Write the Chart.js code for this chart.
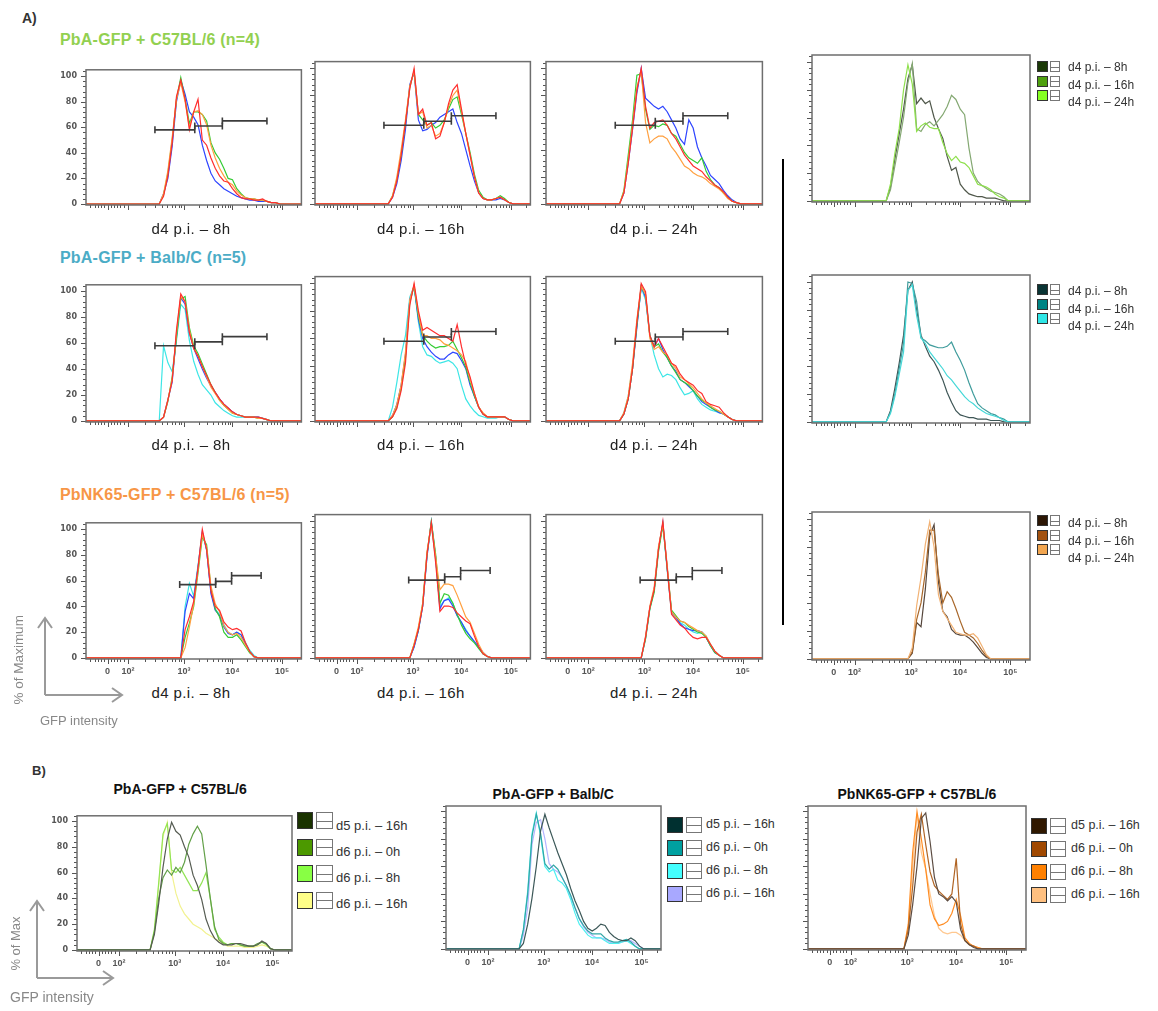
<!DOCTYPE html>
<html>
<head>
<meta charset="utf-8">
<script src="https://cdn.jsdelivr.net/npm/chart.js@4.4.1/dist/chart.umd.min.js"></script>
<style>
body { margin:0; background:#fff; width:1158px; height:1011px; position:relative; overflow:hidden; font-family:Arial, "Liberation Sans", sans-serif; }
canvas { position:absolute; }
.t { position:absolute; white-space:nowrap; line-height:1; }
.sw { position:absolute; border:1px solid #333; box-sizing:border-box; }
.ic { position:absolute; border:1px solid #777; box-sizing:border-box; background:#fff; }
.ic::after { content:''; position:absolute; left:0; right:0; top:50%; border-top:1px solid #777; }
</style>
</head>
<body>
<script>
// histogram bins (relative position along the biexponential GFP axis, 0..100)
const gridX = [0,30,32,34,36,38,40,42,44,46,48,50,52,54,56,58,60,62,64,66,68,70,72,74,76,78,80,82,84,86,88,90,92,94,96,100];
const tickPos = [10, 19.5, 45.5, 68, 91];
const tickLabels = ['0', '10²', '10³', '10⁴', '10⁵'];
const yLabelVals = [0, 20, 40, 60, 80, 100];

// gates (start, end) and their heights
const gatesTopX = [[32, 50.5], [50.5, 63.3], [63.3, 84]];
const gatesTopY = [58, 61, 65];
const gatesNkX = [[43.5, 60.2], [60.2, 67.6], [67.6, 81.3]];
const gatesNkY = [57, 59.5, 64];

// A) PbA-GFP + C57BL/6
const r1p1Blue   = [0, 0,0,0,8,20,45,80,97,86,72,68,62,46,34,24,18,15,12,10,8,6,5,4,3,3,2,2,2,1,1,0,0,0,0, 0];
const r1p1Green  = [0, 0,0,0,7,24,50,82,99,82,63,72,72,70,65,48,40,35,28,20,19,12,8,5,4,4,3,3,2,1,1,0,0,0,0, 0];
const r1p1Orange = [0, 0,0,0,8,26,52,82,95,80,60,72,73,70,62,46,36,28,22,17,15,10,7,5,4,4,3,3,2,1,1,0,0,0,0, 0];
const r1p1Red    = [0, 0,0,0,6,22,48,84,97,82,58,72,82,50,46,36,28,22,18,17,12,8,5,4,4,3,3,4,2,1,1,0,0,0,0, 0];
const r1p2Blue   = [0, 0,0,0,5,15,32,55,88,97,62,54,55,58,60,64,66,68,70,60,52,40,28,17,8,4,3,3,3,4,3,1,0,0,0, 0];
const r1p2Green  = [0, 0,0,0,6,18,36,60,86,98,66,62,58,60,56,58,62,70,77,79,66,52,38,22,10,5,3,3,4,6,4,1,0,0,0, 0];
const r1p2Orange = [0, 0,0,0,6,20,40,62,87,98,66,68,56,58,50,52,60,72,80,84,68,52,36,20,8,4,3,3,4,5,3,1,0,0,0, 0];
const r1p2Red    = [0, 0,0,0,5,17,36,60,85,100,66,70,58,60,48,50,60,74,84,88,70,52,36,20,8,4,3,3,4,5,3,1,0,0,0, 0];
const r1p3Blue   = [0, 0,0,0,8,30,55,82,100,78,75,72,70,72,68,62,56,48,44,62,56,42,34,28,21,18,15,10,6,3,1,0,0,0,0, 0];
const r1p3Green  = [0, 0,0,0,10,36,62,95,96,70,55,58,57,59,58,52,50,44,38,34,32,30,34,24,18,14,12,8,5,2,1,0,0,0,0, 0];
const r1p3Orange = [0, 0,0,0,9,32,58,86,98,60,45,48,50,50,48,42,38,33,28,26,23,21,20,18,15,13,11,8,4,2,1,0,0,0,0, 0];
const r1p3Red    = [0, 0,0,0,8,30,56,84,100,72,56,60,61,62,58,52,48,42,36,32,28,26,24,20,17,14,12,9,5,2,1,0,0,0,0, 0];

// A) PbA-GFP + Balb/C
const r2p1Cyan   = [0, 0,0,0,58,45,38,62,90,86,62,46,36,28,24,20,14,11,8,6,4,3,3,3,3,3,3,2,1,0,0,0,0,0,0, 0];
const r2p1Blue   = [0, 0,0,0,3,16,30,66,95,90,68,56,48,40,33,27,22,17,13,10,7,5,4,3,3,3,3,2,1,0,0,0,0,0,0, 0];
const r2p1Green  = [0, 0,0,0,3,15,34,64,94,96,72,58,52,44,36,28,22,16,12,9,6,5,4,3,3,3,2,2,1,0,0,0,0,0,0, 0];
const r2p1Orange = [0, 0,0,0,3,16,32,68,96,92,70,56,50,42,34,26,21,16,12,9,6,5,4,3,3,3,2,2,1,0,0,0,0,0,0, 0];
const r2p1Red    = [0, 0,0,0,3,16,31,70,98,92,68,56,50,42,35,28,22,17,13,10,7,5,4,3,3,3,3,2,1,0,0,0,0,0,0, 0];
const r2p2Cyan   = [0, 0,0,0,10,28,48,62,90,98,72,54,48,47,44,42,43,44,42,38,26,16,11,7,4,3,2,2,2,3,3,1,0,0,0, 0];
const r2p2Blue   = [0, 0,0,0,4,12,26,48,88,98,74,60,54,50,47,45,45,48,50,49,44,38,26,18,10,5,3,3,3,3,3,1,0,0,0, 0];
const r2p2Green  = [0, 0,0,0,3,10,24,46,86,98,76,62,58,55,53,54,54,55,58,52,46,39,28,18,10,5,3,3,3,3,3,1,0,0,0, 0];
const r2p2Orange = [0, 0,0,0,4,12,26,50,88,99,78,62,62,60,60,59,56,55,53,51,48,43,30,20,10,6,3,3,3,3,3,1,0,0,0, 0];
const r2p2Red    = [0, 0,0,0,3,9,22,42,84,100,80,66,68,66,64,62,62,60,58,70,54,41,32,20,10,5,3,3,3,3,3,1,0,0,0, 0];
const r2p3Cyan   = [0, 0,0,0,6,18,40,70,97,88,62,48,38,32,34,33,30,24,19,20,22,16,12,10,8,7,6,5,3,1,0,0,0,0,0, 0];
const r2p3Blue   = [0, 0,0,0,5,16,38,68,98,90,62,54,60,52,46,40,36,30,28,25,22,18,14,12,10,8,6,5,3,1,0,0,0,0,0, 0];
const r2p3Green  = [0, 0,0,0,5,16,38,70,98,92,62,54,56,50,46,40,35,30,28,26,22,18,15,13,10,8,7,5,3,1,0,0,0,0,0, 0];
const r2p3Orange = [0, 0,0,0,6,18,42,74,98,92,60,52,54,50,48,42,38,32,30,27,24,20,16,13,11,9,7,5,3,1,0,0,0,0,0, 0];
const r2p3Red    = [0, 0,0,0,5,16,38,72,100,94,62,54,60,54,48,42,40,34,30,28,26,22,20,14,12,11,10,6,3,1,0,0,0,0,0, 0];

// A) PbNK65-GFP + C57BL/6
const r3p1Cyan   = [0, 0,0,0,0,0,0,0,0,40,58,48,72,97,84,52,38,34,26,20,18,20,18,12,6,2,0,0,0,0,0,0,0,0,0, 0];
const r3p1Blue   = [0, 0,0,0,0,0,0,0,0,36,50,46,70,98,84,50,37,33,24,19,18,20,18,11,5,1,0,0,0,0,0,0,0,0,0, 0];
const r3p1Green  = [0, 0,0,0,0,0,0,0,0,16,27,40,66,94,88,54,38,32,20,16,16,18,14,9,4,1,0,0,0,0,0,0,0,0,0, 0];
const r3p1Orange = [0, 0,0,0,0,0,0,0,0,8,24,42,68,96,86,56,42,36,25,20,18,19,16,10,5,1,0,0,0,0,0,0,0,0,0, 0];
const r3p1Red    = [0, 0,0,0,0,0,0,0,0,22,32,44,70,100,84,52,40,37,28,24,22,23,21,12,5,1,0,0,0,0,0,0,0,0,0, 0];
const r3p2Cyan   = [0, 0,0,0,0,0,0,0,0,8,20,38,76,98,72,38,42,44,40,31,26,21,16,12,7,3,1,0,0,0,0,0,0,0,0, 0];
const r3p2Blue   = [0, 0,0,0,0,0,0,0,0,8,20,38,74,100,74,36,42,43,38,31,26,20,16,12,8,4,1,0,0,0,0,0,0,0,0, 0];
const r3p2Green  = [0, 0,0,0,0,0,0,0,0,10,21,40,76,100,76,40,47,46,40,32,24,18,14,11,7,3,1,0,0,0,0,0,0,0,0, 0];
const r3p2Orange = [0, 0,0,0,0,0,0,0,0,10,23,40,78,98,74,50,54,54,53,46,38,30,26,18,10,4,1,0,0,0,0,0,0,0,0, 0];
const r3p2Red    = [0, 0,0,0,0,0,0,0,0,9,21,38,76,99,70,34,38,38,37,33,30,27,25,16,8,3,1,0,0,0,0,0,0,0,0, 0];
const r3p3Cyan   = [0, 0,0,0,0,0,0,0,0,14,36,50,80,98,64,33,29,26,24,21,19,18,19,16,10,5,2,0,0,0,0,0,0,0,0, 0];
const r3p3Blue   = [0, 0,0,0,0,0,0,0,0,15,37,50,80,99,66,34,30,25,22,21,20,20,19,15,9,4,2,0,0,0,0,0,0,0,0, 0];
const r3p3Green  = [0, 0,0,0,0,0,0,0,0,14,36,48,78,97,66,35,31,27,26,23,21,19,18,15,9,4,2,0,0,0,0,0,0,0,0, 0];
const r3p3Orange = [0, 0,0,0,0,0,0,0,0,16,38,52,82,98,68,34,30,27,26,24,22,20,19,16,10,5,2,0,0,0,0,0,0,0,0, 0];
const r3p3Red    = [0, 0,0,0,0,0,0,0,0,15,37,50,80,100,66,32,28,24,22,18,15,14,15,15,10,5,2,0,0,0,0,0,0,0,0, 0];

// A) overlays d4 p.i. 8h / 16h / 24h
const o1Dark  = [0, 0,0,0,10,30,48,66,88,98,70,74,70,72,60,52,45,32,22,24,12,8,5,4,3,3,2,2,2,1,0,0,0,0,0, 0];
const o1Mid   = [0, 0,0,0,8,25,42,60,85,99,52,50,55,57,54,58,62,68,76,73,66,62,38,20,14,11,9,7,6,5,3,0,0,0,0, 0];
const o1Light = [0, 0,0,0,12,34,52,80,98,84,50,54,56,53,52,52,42,34,29,32,28,27,24,18,12,11,10,8,5,3,2,0,0,0,0, 0];
const o2Dark  = [0, 0,0,0,8,24,42,62,94,100,80,62,54,47,43,37,30,21,14,8,5,4,3,3,2,2,2,1,1,1,0,0,0,0,0, 0];
const o2Mid   = [0, 0,0,0,7,20,38,56,100,99,86,60,58,55,54,53,53,54,57,50,44,37,28,20,13,10,8,6,5,3,2,0,0,0,0, 0];
const o2Light = [0, 0,0,0,6,18,34,50,94,98,76,60,56,50,46,42,38,33,30,26,22,18,15,13,10,8,6,5,4,3,1,0,0,0,0, 0];
const o3Dark  = [0, 0,0,0,0,0,0,0,0,4,26,23,50,88,96,55,34,30,21,18,17,17,15,12,8,4,1,0,0,0,0,0,0,0,0, 0];
const o3Mid   = [0, 0,0,0,0,0,0,0,0,5,28,40,62,92,92,60,40,48,44,36,27,19,17,15,11,6,2,0,0,0,0,0,0,0,0, 0];
const o3Light = [0, 0,0,0,0,0,0,0,0,8,38,58,82,98,80,46,34,29,24,19,18,17,17,18,15,9,3,0,0,0,0,0,0,0,0, 0];

// B) d5 16h / d6 0h / d6 8h / d6 16h
const b1D5h16 = [0, 0,0,0,12,36,64,86,99,92,89,80,72,58,50,39,24,15,9,6,4,4,4,5,5,4,3,3,4,7,5,1,0,0,0, 0];
const b1D6h0  = [0, 0,0,0,14,40,56,62,58,64,60,68,82,90,96,90,66,40,18,8,5,4,5,5,4,3,3,3,5,6,5,1,0,0,0, 0];
const b1D6h8  = [0, 0,0,0,16,52,90,98,62,60,64,58,52,46,46,52,60,40,16,10,6,4,5,5,4,3,3,3,4,6,4,1,0,0,0, 0];
const b1D6h16 = [0, 0,0,0,14,50,88,99,60,44,34,28,24,20,18,16,13,11,9,7,5,3,3,3,3,2,2,2,3,4,3,1,0,0,0, 0];
const b2D5h16 = [0, 0,0,0,4,18,37,60,86,98,88,79,70,62,54,44,35,28,20,15,13,15,18,17,12,9,7,6,6,8,6,2,0,0,0, 0];
const b2D6h0  = [0, 0,0,0,14,40,82,98,84,62,58,61,58,52,46,39,30,22,17,13,11,11,11,8,6,5,5,6,7,5,2,0,0,0,0, 0];
const b2D6h8  = [0, 0,0,0,14,42,84,99,82,60,56,58,50,48,44,36,26,18,14,10,8,8,8,6,4,4,4,5,6,4,2,0,0,0,0, 0];
const b2D6h16 = [0, 0,0,0,10,30,76,92,94,80,62,58,56,52,46,38,30,22,16,12,10,8,8,7,5,4,4,5,6,6,4,2,0,0,0, 0];
const b3D5h16 = [0, 0,0,0,0,0,0,0,0,10,32,60,95,99,78,52,40,38,35,38,34,14,6,3,1,0,0,0,0,0,0,0,0,0,0, 0];
const b3D6h0  = [0, 0,0,0,0,0,0,0,0,14,45,85,98,76,56,46,42,39,36,40,66,18,6,3,2,0,0,0,0,0,0,0,0,0,0, 0];
const b3D6h8  = [0, 0,0,0,0,0,0,0,0,18,70,100,80,58,32,22,17,18,20,26,36,24,8,4,2,1,0,0,0,0,0,0,0,0,0, 0];
const b3D6h16 = [0, 0,0,0,0,0,0,0,0,16,60,98,70,58,40,24,15,12,11,12,12,10,6,3,2,1,0,0,0,0,0,0,0,0,0, 0];

const C = { cyan:'#3de6e6', blue:'#2f45ff', green:'#35cc35', orange:'#ffa040', red:'#ff2e2e' };

Chart.defaults.font.family = 'Arial, "Liberation Sans", sans-serif';

// y minor ticks every 4 units, x minor ticks following the log decades
const yMinor = [];
for (let v = 0; v <= 104; v += 4) yMinor.push(v);
const xMinor = [2, 4, 5.5, 7, 8.5, 11.5, 13, 14.5, 16, 17.5];
for (let d = 1; d < 4; d++) {
  const a = tickPos[d], b = tickPos[d + 1];
  for (let k = 2; k < 10; k++) xMinor.push(a + (b - a) * Math.log10(k));
}
xMinor.push(91 + 23 * Math.log10(2));

const frame = {
  id: 'frame',
  afterDraw(chart) {
    const { ctx, chartArea: a, scales: { x, y } } = chart;
    ctx.save();
    ctx.strokeStyle = '#555';
    ctx.lineWidth = 1;
    ctx.beginPath();
    yMinor.forEach(v => {
      if (v > chart.options.scales.y.max) return;
      const py = Math.round(y.getPixelForValue(v)) + 0.5;
      ctx.moveTo(a.left - (v % 20 === 0 ? 5 : 3), py); ctx.lineTo(a.left, py);
    });
    xMinor.forEach(v => {
      const px = Math.round(x.getPixelForValue(v)) + 0.5;
      ctx.moveTo(px, a.bottom); ctx.lineTo(px, a.bottom + 3);
    });
    tickPos.forEach(v => {
      const px = Math.round(x.getPixelForValue(v)) + 0.5;
      ctx.moveTo(px, a.bottom); ctx.lineTo(px, a.bottom + 5);
    });
    ctx.stroke();
    ctx.strokeStyle = '#6e6e6e';
    ctx.lineWidth = 1.5;
    ctx.strokeRect(a.left, a.top, a.right - a.left, a.bottom - a.top);
    ctx.restore();
  }
};

const padL = 32, padT = 4, padR = 4, padB = 22;

function makePanel(box, series, gx, gy, showY, showX, yMax, lw) {
  const cv = document.createElement('canvas');
  cv.width = box[2] + padL + padR;
  cv.height = box[3] + padT + padB;
  cv.style.left = (box[0] - padL) + 'px';
  cv.style.top = (box[1] - padT) + 'px';
  document.body.appendChild(cv);
  const datasets = [];
  if (gx) gx.forEach((g, i) => datasets.push({
    data: [{ x: g[0], y: gy[i] }, { x: g[1], y: gy[i] }],
    borderColor: '#3c3c3c', borderWidth: 1.6,
    pointStyle: 'line', rotation: 90, pointRadius: 3.5,
    pointBorderColor: '#3c3c3c', pointBorderWidth: 1.6
  }));
  series.slice().reverse().forEach(s => datasets.push({
    data: gridX.map((x, i) => ({ x: x, y: s[0][i] })),
    borderColor: s[1], borderWidth: lw || 1.2, pointRadius: 0, tension: 0
  }));
  new Chart(cv, {
    type: 'line',
    data: { datasets: datasets },
    options: {
      responsive: false, animation: false, events: [],
      layout: { padding: { top: padT, right: padR, left: 0, bottom: 0 } },
      plugins: { legend: { display: false }, tooltip: { enabled: false } },
      scales: {
        x: {
          type: 'linear', min: 0, max: 100,
          grid: { display: false, drawTicks: false }, border: { display: false },
          afterBuildTicks: s => { s.ticks = tickPos.map(v => ({ value: v })); },
          afterFit: s => { s.height = padB; },
          ticks: {
            display: showX, autoSkip: false, maxRotation: 0, padding: 7,
            color: '#555', font: { size: 9, weight: 'bold' },
            callback: v => tickLabels[tickPos.indexOf(v)]
          }
        },
        y: {
          min: -0.8, max: yMax,
          grid: { display: false, drawTicks: false }, border: { display: false },
          afterBuildTicks: s => { s.ticks = yLabelVals.map(v => ({ value: v })); },
          afterFit: s => { s.width = padL; },
          ticks: { display: showY, autoSkip: false, padding: 9, color: '#555', font: { family: '"DejaVu Sans", sans-serif', size: 8, weight: 'bold' } }
        }
      }
    },
    plugins: [frame]
  });
}

function text(str, x, y, css) {
  const d = document.createElement('div');
  d.className = 't';
  d.textContent = str;
  d.style.cssText += 'left:' + x + 'px;top:' + y + 'px;' + (css || '');
  document.body.appendChild(d);
  return d;
}
function centred(str, cx, cy, css) {
  const d = text(str, 0, 0, css);
  d.style.left = (cx - d.offsetWidth / 2) + 'px';
  d.style.top = (cy - d.offsetHeight / 2) + 'px';
  return d;
}

function legend(x, items, swTops, txtCentres, sw, icon, font) {
  items.forEach((it, i) => {
    const s = document.createElement('div');
    s.className = 'sw';
    s.style.cssText += 'left:' + x + 'px;top:' + swTops[i] + 'px;width:' + sw[0] + 'px;height:' + sw[1] + 'px;background:' + it[1] + ';';
    document.body.appendChild(s);
    const c = document.createElement('div');
    c.className = 'ic';
    c.style.cssText += 'left:' + (x + sw[0] + icon[0]) + 'px;top:' + swTops[i] + 'px;width:' + icon[1] + 'px;height:' + sw[1] + 'px;';
    document.body.appendChild(c);
    const d = text(it[0], x + sw[0] + icon[0] + icon[1] + icon[2], 0, 'font-size:' + font + 'px;color:#333;');
    d.style.top = (txtCentres[i] - d.offsetHeight / 2) + 'px';
  });
}

// ---- section A ----
text('A)', 22, 11, 'font-size:14px;font-weight:bold;color:#333;');
text('PbA-GFP + C57BL/6 (n=4)', 60, 32, 'font-size:16px;font-weight:bold;color:#92d050;letter-spacing:0.2px;');
text('PbA-GFP + Balb/C (n=5)', 60, 250, 'font-size:16px;font-weight:bold;color:#4bacc6;letter-spacing:0.2px;');
text('PbNK65-GFP + C57BL/6 (n=5)', 60, 487, 'font-size:16px;font-weight:bold;color:#f79646;letter-spacing:0.2px;');

makePanel([86, 60, 217, 145], [[r1p1Blue, C.blue], [r1p1Green, C.green], [r1p1Orange, C.orange], [r1p1Red, C.red]], gatesTopX, gatesTopY, true, false, 105);
makePanel([315, 60, 217, 145], [[r1p2Blue, C.blue], [r1p2Green, C.green], [r1p2Orange, C.orange], [r1p2Red, C.red]], gatesTopX, gatesTopY, false, false, 105);
makePanel([546, 60, 218, 145], [[r1p3Blue, C.blue], [r1p3Green, C.green], [r1p3Orange, C.orange], [r1p3Red, C.red]], gatesTopX, gatesTopY, false, false, 105);

makePanel([86, 275, 217, 147], [[r2p1Cyan, C.cyan], [r2p1Blue, C.blue], [r2p1Green, C.green], [r2p1Orange, C.orange], [r2p1Red, C.red]], gatesTopX, gatesTopY, true, false, 105);
makePanel([315, 275, 217, 147], [[r2p2Cyan, C.cyan], [r2p2Blue, C.blue], [r2p2Green, C.green], [r2p2Orange, C.orange], [r2p2Red, C.red]], gatesTopX, gatesTopY, false, false, 105);
makePanel([546, 275, 218, 147], [[r2p3Cyan, C.cyan], [r2p3Blue, C.blue], [r2p3Green, C.green], [r2p3Orange, C.orange], [r2p3Red, C.red]], gatesTopX, gatesTopY, false, false, 105);

makePanel([86, 513, 217, 146], [[r3p1Cyan, C.cyan], [r3p1Blue, C.blue], [r3p1Green, C.green], [r3p1Orange, C.orange], [r3p1Red, C.red]], gatesNkX, gatesNkY, true, true, 105);
makePanel([315, 513, 217, 146], [[r3p2Cyan, C.cyan], [r3p2Blue, C.blue], [r3p2Green, C.green], [r3p2Orange, C.orange], [r3p2Red, C.red]], gatesNkX, gatesNkY, false, true, 105);
makePanel([546, 513, 218, 146], [[r3p3Cyan, C.cyan], [r3p3Blue, C.blue], [r3p3Green, C.green], [r3p3Orange, C.orange], [r3p3Red, C.red]], gatesNkX, gatesNkY, false, true, 105);

makePanel([812, 55, 218, 147], [[o1Dark, '#4f574a'], [o1Mid, '#84a872'], [o1Light, '#8ee04c']], null, null, false, false, 105);
makePanel([812, 275, 218, 148], [[o2Dark, '#3e5656'], [o2Mid, '#3f9c9c'], [o2Light, '#45d8d8']], null, null, false, false, 105);
makePanel([812, 512, 218, 148], [[o3Dark, '#55463c'], [o3Mid, '#a8672a'], [o3Light, '#f2b274']], null, null, false, true, 105);

const capA = ['d4 p.i. – 8h', 'd4 p.i. – 16h', 'd4 p.i. – 24h'];
[[191, 228], [421, 228], [654, 228], [191, 444], [421, 444], [654, 444], [191, 692], [421, 692], [654, 692]].forEach((p, i) => {
  centred(capA[i % 3], p[0], p[1], 'font-size:15px;letter-spacing:0.4px;color:#222;');
});

const vline = document.createElement('div');
vline.style.cssText = 'position:absolute;left:782px;top:159px;width:2px;height:466px;background:#000;';
document.body.appendChild(vline);

legend(1037, [['d4 p.i. – 8h', '#1c3a08'], ['d4 p.i. – 16h', '#4ea00e'], ['d4 p.i. – 24h', '#86ff22']], [61, 75.5, 90], [67, 84.5, 102], [11, 11], [2, 10, 8], 12);
legend(1037, [['d4 p.i. – 8h', '#0a3434'], ['d4 p.i. – 16h', '#008484'], ['d4 p.i. – 24h', '#2ee6e6']], [284, 298.5, 313], [291, 308.5, 326], [11, 11], [2, 10, 8], 12);
legend(1037, [['d4 p.i. – 8h', '#2c1604'], ['d4 p.i. – 16h', '#a35210'], ['d4 p.i. – 24h', '#f2a650']], [515, 529.5, 544], [523, 540.5, 558], [11, 11], [2, 10, 8], 12);

// ---- section B ----
text('B)', 32, 764, 'font-size:13px;font-weight:bold;color:#333;');
centred('PbA-GFP + C57BL/6', 180, 789, 'font-size:14px;font-weight:bold;color:#111;');
centred('PbA-GFP + Balb/C', 553, 794, 'font-size:14px;font-weight:bold;color:#111;');
centred('PbNK65-GFP + C57BL/6', 917, 794, 'font-size:14px;font-weight:bold;color:#111;');

makePanel([77, 806, 215, 145], [[b1D6h16, '#f2f290'], [b1D6h8, '#92e456'], [b1D6h0, '#62a048'], [b1D5h16, '#565c52']], null, null, true, true, 104);
makePanel([446, 806, 215, 144], [[b2D6h16, '#b4b4ff'], [b2D6h8, '#4cf0f0'], [b2D6h0, '#32a6a6'], [b2D5h16, '#3c5858']], null, null, false, true, 104);
makePanel([808, 806, 218, 144], [[b3D6h16, '#ffc890'], [b3D6h8, '#ff8c22'], [b3D6h0, '#b06424'], [b3D5h16, '#5c4c42']], null, null, false, true, 104);

const capB = ['d5 p.i. – 16h', 'd6 p.i. – 0h', 'd6 p.i. – 8h', 'd6 p.i. – 16h'];
legend(297, capB.map((c, i) => [c, ['#1a3300', '#4c9900', '#88ff44', '#ffff88'][i]]), [812, 838.5, 865, 891.5], [825, 851, 877.5, 903], [16, 17], [3, 17, 3], 13);
legend(667, capB.map((c, i) => [c, ['#003030', '#00a0a0', '#44ffff', '#a8a8ff'][i]]), [817, 840, 863, 886], [824, 847, 870, 893], [16, 16], [3, 16, 4], 12.5);
legend(1031, capB.map((c, i) => [c, ['#301800', '#a04800', '#ff8000', '#ffc080'][i]]), [818, 841, 864, 887], [825, 848, 871, 894], [16, 16], [3, 16, 5], 12.5);

// axis hints
const svgNS = 'http://www.w3.org/2000/svg';
const svg = document.createElementNS(svgNS, 'svg');
svg.setAttribute('width', 1158); svg.setAttribute('height', 1011);
svg.style.cssText = 'position:absolute;left:0;top:0;';
[['M45 695 V618 M38 628 L45 618 L52 628 M45 695 H122 M112 688 L122 695 L112 702'],
 ['M37 978 V901 M30 911 L37 901 L44 911 M37 978 H113 M103 971 L113 978 L103 985']].forEach(p => {
  const path = document.createElementNS(svgNS, 'path');
  path.setAttribute('d', p[0]);
  path.setAttribute('stroke', '#9a9a9a'); path.setAttribute('stroke-width', '2');
  path.setAttribute('fill', 'none');
  svg.appendChild(path);
});
document.body.appendChild(svg);

centred('% of Maximum', 18, 660, 'font-size:13.5px;color:#888;transform:rotate(-90deg);');
centred('% of Max', 15, 943, 'font-size:13px;color:#888;transform:rotate(-90deg);');
text('GFP intensity', 40, 714, 'font-size:13px;color:#888;');
text('GFP intensity', 10, 990, 'font-size:14px;color:#888;');
</script>
</body>
</html>
